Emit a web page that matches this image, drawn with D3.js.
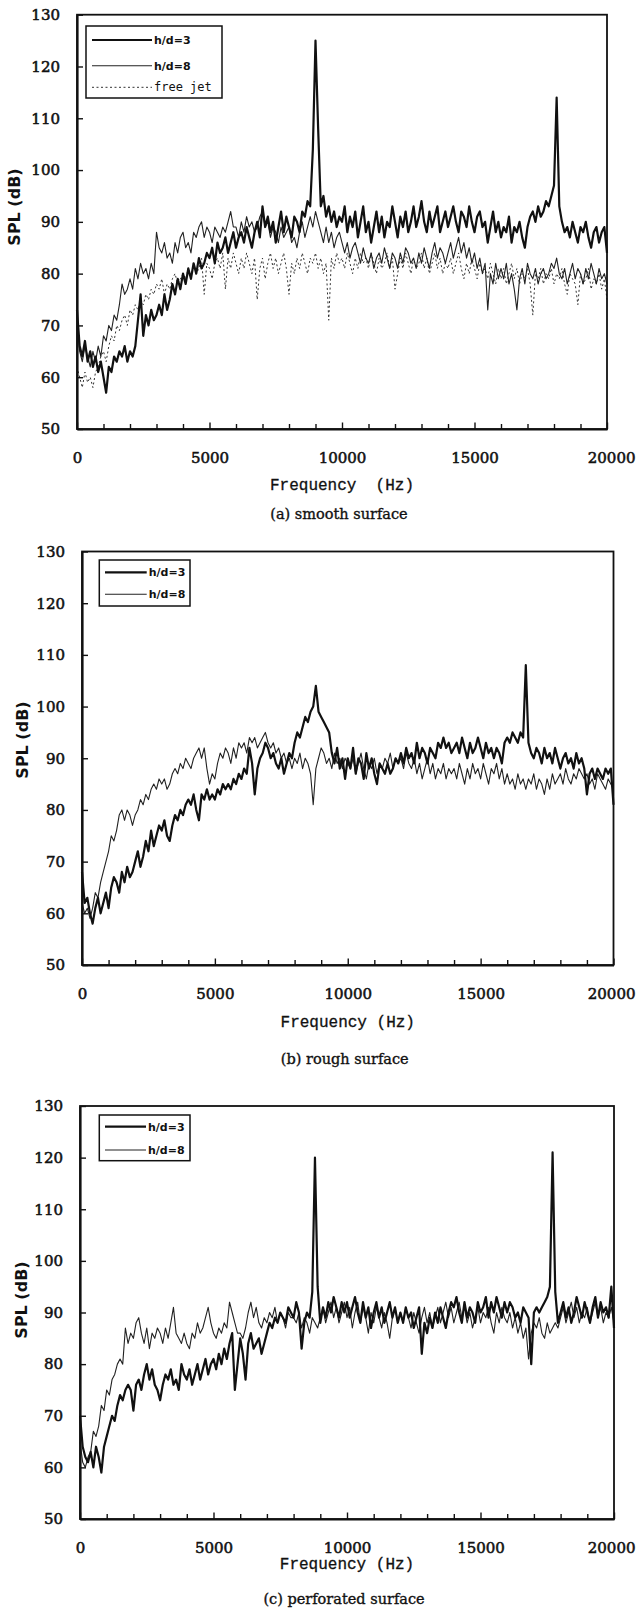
<!DOCTYPE html>
<html lang="en">
<head>
<meta charset="utf-8"/>
<title>SPL spectra - impinging jet</title>
<script src="https://cdn.jsdelivr.net/npm/d3@7/dist/d3.min.js"></script>
<style>
  body { margin: 0; background: #fff; }
  .tick text { font-family: "DejaVu Serif", serif; font-size: 15px; fill: #111; stroke: #111; stroke-width: 0.55px; }
  .ylab { font-family: "DejaVu Sans", sans-serif; font-weight: bold; font-size: 16px; fill: #111; }
  .xlab { font-family: "Liberation Mono", "DejaVu Sans Mono", monospace; font-size: 16px; fill: #111; stroke: #111; stroke-width: 0.3px; }
  .cap { font-family: "DejaVu Serif", serif; font-size: 14.5px; fill: #111; stroke: #111; stroke-width: 0.35px; }
  .leg { font-family: "DejaVu Sans", sans-serif; font-weight: bold; font-size: 11px; fill: #111; }
  .legmono { font-family: "DejaVu Sans Mono", monospace; font-size: 12px; fill: #111; }
</style>
</head>
<body>
<svg id="chart"></svg>
<script>
// frequency grid, 100 Hz steps from 0 to 20000 Hz
const freq = d3.range(0, 20001, 100)
const yTickValues = [50, 60, 70, 80, 90, 100, 110, 120, 130]
const xTickLabels = [0, 5000, 10000, 15000, 20000]

// (a) smooth surface
const smoothH3 = [
  73, 66, 64, 67, 63, 65, 62, 64, 61, 63, 60, 57, 62, 61, 64, 63, 65, 64, 66, 63,
  65, 64, 66, 71, 76, 68, 72, 70, 73, 71, 72, 74, 72, 76, 73, 75, 78, 76, 79, 77,
  80, 78, 81, 79, 82, 80, 83, 81, 82, 84, 83, 85, 82, 86, 84, 85, 87, 84, 86, 88,
  85, 87, 88, 86, 89, 87, 85, 88, 90, 87, 93, 89, 91, 88, 90, 86, 89, 92, 88, 91,
  89, 87, 91, 90, 88, 92, 91, 94, 93, 104, 125, 108, 93, 95, 91, 93, 90, 92, 89, 91,
  90, 93, 88, 91, 89, 92, 87, 90, 93, 88, 90, 86, 89, 92, 88, 91, 87, 90, 89, 93,
  90, 87, 91, 89, 92, 88, 90, 93, 89, 91, 94, 90, 88, 92, 89, 91, 93, 88, 90, 92,
  89, 91, 93, 90, 88, 92, 91, 89, 93, 90, 88, 91, 92, 89, 90, 86, 89, 92, 88, 90,
  87, 89, 88, 91, 86, 89, 88, 90, 87, 85, 89, 91, 92, 90, 93, 91, 92, 94, 93, 95,
  97, 114, 93, 90, 88, 89, 87, 90, 88, 86, 89, 88, 90, 87, 85, 88, 89, 86, 88, 89, 84
]
const smoothH8 = [
  70, 65, 63, 66, 64, 62, 65, 63, 66, 64, 68, 67, 70, 69, 72, 71, 74, 78, 76, 77,
  79, 77, 81, 79, 82, 80, 81, 79, 82, 80, 88, 85, 84, 86, 83, 84, 82, 86, 84, 87,
  88, 85, 86, 84, 88, 87, 89, 90, 87, 89, 88, 86, 89, 88, 87, 89, 88, 90, 92, 89,
  89, 87, 90, 88, 91, 89, 90, 88, 89, 91, 92, 89, 90, 87, 89, 88, 86, 89, 87, 88,
  89, 86, 87, 85, 88, 90, 87, 89, 91, 89, 92, 90, 88, 86, 89, 86, 88, 85, 87, 88,
  86, 84, 86, 83, 85, 86, 84, 82, 85, 83, 82, 84, 81, 83, 84, 82, 85, 83, 81, 84,
  83, 81, 84, 82, 85, 84, 82, 83, 81, 84, 82, 85, 83, 81, 84, 86, 83, 85, 84, 82,
  84, 86, 83, 85, 87, 84, 86, 83, 85, 82, 84, 81, 83, 80, 82, 73, 80, 78, 82, 79,
  81, 79, 82, 78, 80, 77, 73, 79, 81, 78, 82, 80, 79, 81, 78, 80, 81, 79, 80, 82,
  81, 83, 80, 79, 81, 78, 80, 82, 79, 81, 80, 78, 81, 79, 82, 80, 78, 81, 79, 80, 78
]
const smoothJet = [
  62, 60, 58, 61, 59, 60, 58, 61, 62, 64, 65, 63, 66, 68, 67, 70, 69, 71, 72, 70,
  73, 72, 74, 73, 75, 74, 76, 75, 77, 76, 78, 77, 79, 76, 78, 77, 79, 80, 78, 79,
  80, 79, 81, 79, 82, 80, 81, 83, 76, 82, 81, 79, 82, 83, 81, 84, 77, 83, 81, 84,
  82, 80, 83, 81, 84, 82, 80, 83, 75, 81, 83, 79, 82, 84, 81, 83, 80, 82, 84, 81,
  76, 82, 80, 83, 81, 84, 82, 80, 83, 82, 84, 81, 83, 80, 82, 71, 83, 81, 84, 82,
  83, 81, 84, 82, 80, 83, 81, 84, 82, 83, 81, 84, 82, 80, 83, 81, 82, 84, 81, 83,
  77, 80, 83, 81, 84, 82, 80, 83, 81, 82, 84, 81, 83, 80, 82, 84, 81, 83, 80, 82,
  81, 83, 80, 82, 84, 81, 79, 82, 80, 83, 81, 79, 82, 80, 81, 79, 82, 80, 78, 81,
  79, 81, 78, 80, 82, 79, 81, 78, 80, 79, 81, 78, 72, 80, 79, 81, 78, 80, 79, 81,
  78, 80, 79, 81, 78, 76, 80, 79, 78, 74, 80, 78, 79, 81, 77, 79, 78, 80, 77, 79, 75
]

// (b) rough surface
const roughH3 = [
  68, 62, 63, 60, 58, 61, 63, 60, 62, 64, 61, 65, 67, 66, 64, 68, 66, 69, 67, 68,
  70, 72, 69, 71, 74, 72, 76, 73, 75, 77, 76, 78, 75, 74, 77, 79, 78, 80, 79, 81,
  82, 81, 83, 80, 78, 83, 82, 84, 82, 83, 82, 84, 83, 85, 84, 85, 84, 86, 85, 87,
  86, 88, 87, 92, 89, 83, 88, 90, 91, 93, 92, 90, 91, 89, 88, 90, 87, 89, 91, 90,
  93, 95, 94, 96, 98, 97, 99, 100, 104, 99, 98, 97, 96, 95, 91, 89, 92, 88, 90, 86,
  90, 88, 92, 87, 90, 89, 86, 91, 88, 90, 87, 85, 89, 88, 87, 89, 87, 88, 90, 89,
  91, 89, 92, 90, 91, 89, 93, 90, 92, 91, 89, 92, 91, 90, 93, 92, 94, 92, 93, 91,
  92, 93, 91, 94, 92, 90, 93, 91, 92, 94, 92, 90, 93, 91, 92, 90, 92, 91, 89, 93,
  94, 93, 95, 94, 93, 95, 94, 108, 93, 91, 90, 92, 91, 89, 92, 90, 91, 89, 92, 90,
  88, 90, 91, 89, 90, 88, 91, 89, 90, 88, 83, 87, 88, 86, 88, 87, 86, 88, 87, 88, 81
]
const roughH8 = [
  62, 60, 61, 59, 61, 64, 63, 66, 68, 70, 72, 75, 74, 76, 79, 80, 78, 80, 79, 77,
  79, 80, 82, 81, 83, 82, 84, 85, 84, 86, 85, 86, 84, 85, 87, 88, 87, 89, 88, 90,
  89, 88, 90, 91, 92, 90, 92, 88, 85, 87, 86, 89, 91, 90, 92, 91, 89, 92, 90, 93,
  92, 93, 91, 94, 93, 94, 92, 93, 94, 95, 93, 92, 93, 91, 92, 90, 91, 89, 90, 88,
  90, 89, 91, 88, 90, 89, 87, 81, 88, 90, 92, 91, 89, 90, 88, 91, 89, 90, 88, 90,
  89, 88, 90, 87, 89, 91, 88, 86, 89, 88, 90, 87, 89, 88, 90, 89, 91, 88, 90, 89,
  90, 88, 91, 89, 88, 90, 87, 89, 86, 88, 90, 87, 89, 86, 88, 87, 89, 86, 88, 87,
  88, 86, 89, 87, 85, 88, 86, 89, 87, 88, 86, 89, 87, 85, 88, 87, 89, 86, 88, 85,
  87, 85, 86, 84, 87, 85, 86, 84, 86, 85, 87, 84, 86, 85, 83, 86, 84, 87, 85, 86,
  87, 85, 88, 86, 85, 87, 86, 88, 87, 86, 87, 85, 86, 84, 87, 86, 85, 84, 86, 85, 84
]

// (c) perforated surface
const perfH3 = [
  70, 64, 62, 61, 63, 60, 64, 62, 59, 64, 66, 68, 70, 69, 72, 74, 73, 75, 76, 75,
  71, 76, 77, 75, 78, 80, 77, 79, 76, 75, 73, 76, 78, 77, 79, 76, 77, 75, 80, 78,
  77, 79, 76, 78, 80, 77, 79, 81, 78, 80, 81, 79, 82, 80, 83, 81, 84, 86, 75, 80,
  85, 82, 77, 84, 86, 83, 84, 85, 82, 84, 86, 88, 87, 89, 88, 90, 89, 88, 91, 90,
  89, 92, 90, 83, 88, 90, 89, 94, 120, 95, 88, 91, 89, 92, 90, 93, 91, 89, 92, 90,
  92, 89, 91, 93, 90, 88, 92, 89, 91, 87, 90, 92, 89, 91, 88, 90, 92, 89, 91, 88,
  90, 88, 91, 89, 90, 87, 89, 91, 82, 88, 86, 89, 87, 90, 88, 91, 89, 87, 90, 92,
  91, 93, 90, 88, 92, 89, 91, 90, 88, 92, 90, 91, 93, 89, 92, 90, 93, 91, 89, 92,
  90, 92, 91, 89, 90, 88, 91, 90, 89, 80, 90, 91, 90, 91, 92, 93, 95, 121, 94, 88,
  90, 92, 89, 91, 88, 90, 93, 91, 89, 92, 90, 88, 91, 93, 89, 92, 90, 91, 89, 95, 87
]
const perfH8 = [
  65, 61, 60, 62, 63, 67, 66, 68, 72, 71, 75, 74, 77, 78, 80, 81, 80, 87, 84, 86,
  85, 88, 89, 86, 84, 87, 83, 86, 85, 87, 86, 84, 87, 85, 88, 91, 86, 85, 84, 86,
  84, 83, 86, 85, 88, 86, 87, 89, 91, 88, 86, 85, 87, 86, 88, 87, 92, 90, 88, 86,
  86, 85, 87, 90, 92, 89, 91, 88, 87, 89, 88, 90, 89, 91, 88, 90, 89, 87, 90, 89,
  89, 88, 90, 87, 89, 88, 86, 89, 88, 87, 89, 91, 88, 90, 92, 89, 91, 88, 90, 92,
  89, 91, 87, 90, 92, 88, 91, 89, 86, 90, 88, 91, 89, 87, 90, 88, 85, 89, 91, 88,
  90, 88, 91, 89, 87, 90, 88, 86, 89, 91, 88, 90, 87, 89, 91, 88, 90, 92, 89, 91,
  88, 90, 92, 89, 91, 88, 90, 87, 89, 91, 88, 90, 89, 91, 88, 86, 90, 88, 91, 89,
  88, 90, 87, 89, 86, 88, 85, 87, 81, 86, 88, 87, 89, 86, 85, 88, 86, 87, 88, 87,
  89, 91, 88, 90, 92, 89, 91, 88, 90, 89, 91, 88, 90, 92, 89, 91, 88, 90, 89, 91, 88
]

const thick = { width: 2.2, dash: null, color: '#111' }
const thin = { width: 1.1, dash: null, color: '#222' }
const dotted = { width: 1, dash: '2,2.5', color: '#333' }

const panels = [
  {
    x0: 77, x1: 607, top: 14.7, bottom: 429,
    series: [
      { label: 'free jet', values: smoothJet, style: dotted, mono: true },
      { label: 'h/d=8', values: smoothH8, style: thin },
      { label: 'h/d=3', values: smoothH3, style: thick }
    ],
    legendBox: [86, 26, 136, 72], legendLine: [92, 152], legendRows: [87.3, 65.7, 40],
    yLabelX: 20, yLabelY: 207,
    xTitle: 'Frequency  (Hz)', xTitleY: 490, caption: '(a) smooth surface', captionY: 519
  },
  {
    x0: 82, x1: 613.5, top: 551.5, bottom: 965,
    series: [
      { label: 'h/d=8', values: roughH8, style: thin },
      { label: 'h/d=3', values: roughH3, style: thick }
    ],
    legendBox: [99.3, 560, 90.7, 46], legendLine: [105, 146.7], legendRows: [594.3, 572.3],
    yLabelX: 28, yLabelY: 740,
    xTitle: 'Frequency (Hz)', xTitleY: 1027, caption: '(b) rough surface', captionY: 1064
  },
  {
    x0: 80, x1: 614, top: 1106, bottom: 1519,
    series: [
      { label: 'h/d=8', values: perfH8, style: thin },
      { label: 'h/d=3', values: perfH3, style: thick }
    ],
    legendBox: [99.3, 1115, 90.7, 45.7], legendLine: [105, 146], legendRows: [1150, 1126.7],
    yLabelX: 27, yLabelY: 1300,
    xTitle: 'Frequency (Hz)', xTitleY: 1569, caption: '(c) perforated surface', captionY: 1604
  }
]

const svg = d3.select('#chart').attr('width', 639).attr('height', 1608)

panels.forEach(drawPanel)

function drawPanel(p) {
  const x = d3.scaleLinear().domain([0, 20000]).range([p.x0, p.x1])
  const y = d3.scaleLinear().domain([50, 130]).range([p.bottom, p.top])
  const g = svg.append('g')

  // lines
  const line = d3.line().x((d, i) => x(freq[i])).y(d => y(d))
  p.series.forEach(s => {
    g.append('path')
      .datum(s.values)
      .attr('d', line)
      .attr('fill', 'none')
      .attr('stroke', s.style.color)
      .attr('stroke-width', s.style.width)
      .attr('stroke-dasharray', s.style.dash)
      .attr('stroke-linejoin', 'round')
  })

  // frame
  g.append('rect')
    .attr('x', p.x0).attr('y', p.top)
    .attr('width', p.x1 - p.x0).attr('height', p.bottom - p.top)
    .attr('fill', 'none').attr('stroke', '#111').attr('stroke-width', 1.8)

  // x axis, minor ticks each 1000 Hz pointing inward
  const xAxis = g.append('g')
    .attr('transform', `translate(0,${p.bottom})`)
    .call(d3.axisBottom(x)
      .tickValues(d3.range(0, 20001, 1000))
      .tickSize(-5).tickSizeOuter(0).tickPadding(23)
      .tickFormat(d => xTickLabels.includes(d) ? d : ''))
  xAxis.select('.domain').attr('stroke', '#111').attr('stroke-width', 2.2)
  xAxis.selectAll('.tick line').attr('stroke', '#111').attr('stroke-width', 1.4)
    .filter(d => xTickLabels.includes(d)).attr('y2', -6.5)
  // keep the last label inside the page: right edge at x = 635
  xAxis.selectAll('.tick text')
    .filter(d => d === 20000)
    .attr('text-anchor', 'end')
    .attr('x', 635 - p.x1)

  // y axis
  const yAxis = g.append('g')
    .attr('transform', `translate(${p.x0},0)`)
    .call(d3.axisLeft(y)
      .tickValues(yTickValues)
      .tickSize(-6).tickSizeOuter(0).tickPadding(17))
  yAxis.select('.domain').attr('stroke', '#111').attr('stroke-width', 2.2)
  yAxis.selectAll('.tick line').attr('stroke', '#111').attr('stroke-width', 1.4)

  // titles
  g.append('text').attr('class', 'ylab')
    .attr('transform', `translate(${p.yLabelX},${p.yLabelY}) rotate(-90)`)
    .attr('text-anchor', 'middle')
    .text('SPL (dB)')
  g.append('text').attr('class', 'xlab')
    .attr('x', (p.x0 + p.x1) / 2).attr('y', p.xTitleY)
    .attr('text-anchor', 'middle').attr('xml:space', 'preserve')
    .style('white-space', 'pre')
    .text(p.xTitle)
  g.append('text').attr('class', 'cap')
    .attr('x', (p.x0 + p.x1) / 2 - 3).attr('y', p.captionY)
    .attr('text-anchor', 'middle')
    .text(p.caption)

  // legend
  const [bx, by, bw, bh] = p.legendBox
  g.append('rect')
    .attr('x', bx).attr('y', by).attr('width', bw).attr('height', bh)
    .attr('fill', '#fff').attr('stroke', '#111').attr('stroke-width', 1.5)
  p.series.forEach((s, i) => {
    const ly = p.legendRows[i]
    g.append('line')
      .attr('x1', p.legendLine[0]).attr('x2', p.legendLine[1])
      .attr('y1', ly).attr('y2', ly)
      .attr('stroke', s.style.color)
      .attr('stroke-width', s.style.width)
      .attr('stroke-dasharray', s.style.dash)
    g.append('text')
      .attr('class', s.mono ? 'legmono' : 'leg')
      .attr('x', p.legendLine[1] + 2).attr('y', ly + 4)
      .text(s.label)
  })
}
</script>
</body>
</html>
